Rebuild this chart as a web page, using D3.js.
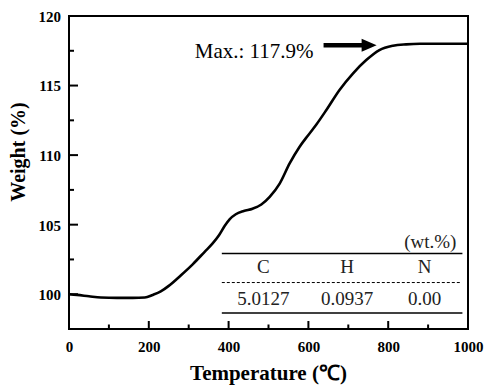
<!DOCTYPE html>
<html><head><meta charset="utf-8">
<script src="https://cdn.jsdelivr.net/npm/d3@7"></script>
<style>html,body{margin:0;padding:0;background:#fff;}svg{display:block;}</style>
</head><body>
<svg id="chart" width="490" height="391"></svg>
<script>
// Data
const temperature = [0, 20, 50, 80, 120, 160, 190, 210, 230, 250, 280, 310, 340, 360, 375, 390, 403, 418, 438, 460, 482, 503, 528, 553, 578, 600, 620, 645, 678, 712, 745, 778, 812, 845, 880, 940, 1000];
const weight      = [100.0, 99.95, 99.85, 99.76, 99.74, 99.74, 99.76, 99.95, 100.2, 100.6, 101.35, 102.15, 103.05, 103.65, 104.2, 104.9, 105.4, 105.75, 105.98, 106.15, 106.45, 107.0, 107.95, 109.4, 110.6, 111.45, 112.2, 113.24, 114.68, 115.88, 116.83, 117.55, 117.86, 117.96, 118.0, 118.0, 118.0];
const xTicks = [0, 200, 400, 600, 800, 1000];
const xMinor = [100, 300, 500, 700, 900];
const yTicks = [100, 105, 110, 115, 120];
const yMinor = [97.5, 102.5, 107.5, 112.5, 117.5];
const maxLabel = "Max.: 117.9%";
const maxValue = 117.9;
const tableElements = ["C", "H", "N"];
const tableValues = ["5.0127", "0.0937", "0.00"];
const tableUnit = "(wt.%)";

const svg = d3.select("#chart");
const m = {left: 69, top: 16, right: 468, bottom: 329};
const x = d3.scaleLinear().domain([0, 1000]).range([m.left, m.right]);
const y = d3.scaleLinear().domain([97.5, 120]).range([m.bottom, m.top]);
const serif = "'Liberation Serif', 'Times New Roman', serif";

// Curve
const pts = temperature.map((t, i) => [t, weight[i]]);
svg.append("path")
  .datum(pts)
  .attr("fill", "none")
  .attr("stroke", "#000")
  .attr("stroke-width", 2.6)
  .attr("stroke-linejoin", "round")
  .attr("d", d3.line().x(d => x(d[0])).y(d => y(d[1])).curve(d3.curveMonotoneX));

// Axes labels
const fmt = d3.format("d");
const xAxis = svg.append("g").attr("transform", `translate(0,${m.bottom})`)
  .call(d3.axisBottom(x).tickValues(xTicks).tickFormat(fmt).tickSize(0).tickPadding(12));
const yAxis = svg.append("g").attr("transform", `translate(${m.left},0)`)
  .call(d3.axisLeft(y).tickValues(yTicks).tickFormat(fmt).tickSize(0).tickPadding(8));
svg.selectAll(".domain").remove();
svg.selectAll(".tick text")
  .attr("font-family", serif).attr("font-weight", "bold").attr("font-size", 15).attr("fill", "#000");
yAxis.selectAll(".tick text").attr("dy", "0.36em");
xAxis.selectAll(".tick text").attr("dy", "0.71em");

// Inward tick marks
const tg = svg.append("g").attr("stroke", "#000").attr("stroke-width", 2);
tg.selectAll(".xt").data(xTicks.concat(xMinor)).join("line")
  .attr("x1", d => x(d)).attr("x2", d => x(d))
  .attr("y1", m.bottom).attr("y2", d => m.bottom - (xTicks.includes(d) ? 8 : 4.5));
tg.selectAll(".yt").data(yTicks.concat(yMinor)).join("line")
  .attr("y1", d => y(d)).attr("y2", d => y(d))
  .attr("x1", m.left).attr("x2", d => m.left + (yTicks.includes(d) ? 9 : 5));

// Frame
svg.append("rect")
  .attr("x", m.left).attr("y", m.top)
  .attr("width", m.right - m.left).attr("height", m.bottom - m.top)
  .attr("fill", "none").attr("stroke", "#000").attr("stroke-width", 2);

// Axis titles
svg.append("text")
  .attr("x", (m.left + m.right) / 2).attr("y", 380)
  .attr("text-anchor", "middle")
  .attr("font-family", serif).attr("font-weight", "bold").attr("font-size", 21)
  .text("Temperature (℃)");
svg.append("text")
  .attr("transform", `translate(25,152) rotate(-90)`)
  .attr("text-anchor", "middle")
  .attr("font-family", serif).attr("font-weight", "bold").attr("font-size", 20)
  .text("Weight (%)");

// Max annotation + arrow
svg.append("text")
  .attr("x", x(613)).attr("y", y(116.97))
  .attr("text-anchor", "end")
  .attr("font-family", serif).attr("font-size", 21)
  .text(maxLabel);
const ay = y(maxValue);
const ax0 = x(638), ax1 = x(771);
svg.append("line")
  .attr("x1", ax0).attr("x2", ax1 - 12).attr("y1", ay).attr("y2", ay)
  .attr("stroke", "#000").attr("stroke-width", 4.5);
svg.append("path")
  .attr("d", `M${ax1},${ay} L${ax1 - 15},${ay - 6.5} L${ax1 - 15},${ay + 6.5} Z`)
  .attr("fill", "#000");

// Composition table
const tx0 = x(383), tx1 = x(986);
const colX = [487, 697, 891];
svg.append("line").attr("x1", tx0).attr("x2", tx1).attr("y1", y(102.93)).attr("y2", y(102.93))
  .attr("stroke", "#000").attr("stroke-width", 1.6);
svg.append("line").attr("x1", tx0).attr("x2", x(980)).attr("y1", y(100.84)).attr("y2", y(100.84))
  .attr("stroke", "#000").attr("stroke-width", 1).attr("stroke-dasharray", "3,2");
svg.append("line").attr("x1", tx0).attr("x2", tx1).attr("y1", y(98.65)).attr("y2", y(98.65))
  .attr("stroke", "#000").attr("stroke-width", 1.6);
svg.append("text")
  .attr("x", x(971)).attr("y", y(103.3)).attr("text-anchor", "end")
  .attr("font-family", serif).attr("font-size", 19).attr("fill", "#222")
  .text(tableUnit);
svg.selectAll(".hdr").data(tableElements).join("text")
  .attr("x", (d, i) => x(colX[i])).attr("y", y(101.49)).attr("text-anchor", "middle")
  .attr("font-family", serif).attr("font-size", 19).attr("fill", "#222")
  .text(d => d);
svg.selectAll(".val").data(tableValues).join("text")
  .attr("x", (d, i) => x(colX[i])).attr("y", y(99.21)).attr("text-anchor", "middle")
  .attr("font-family", serif).attr("font-size", 19).attr("fill", "#222")
  .text(d => d);
</script>
</body></html>
